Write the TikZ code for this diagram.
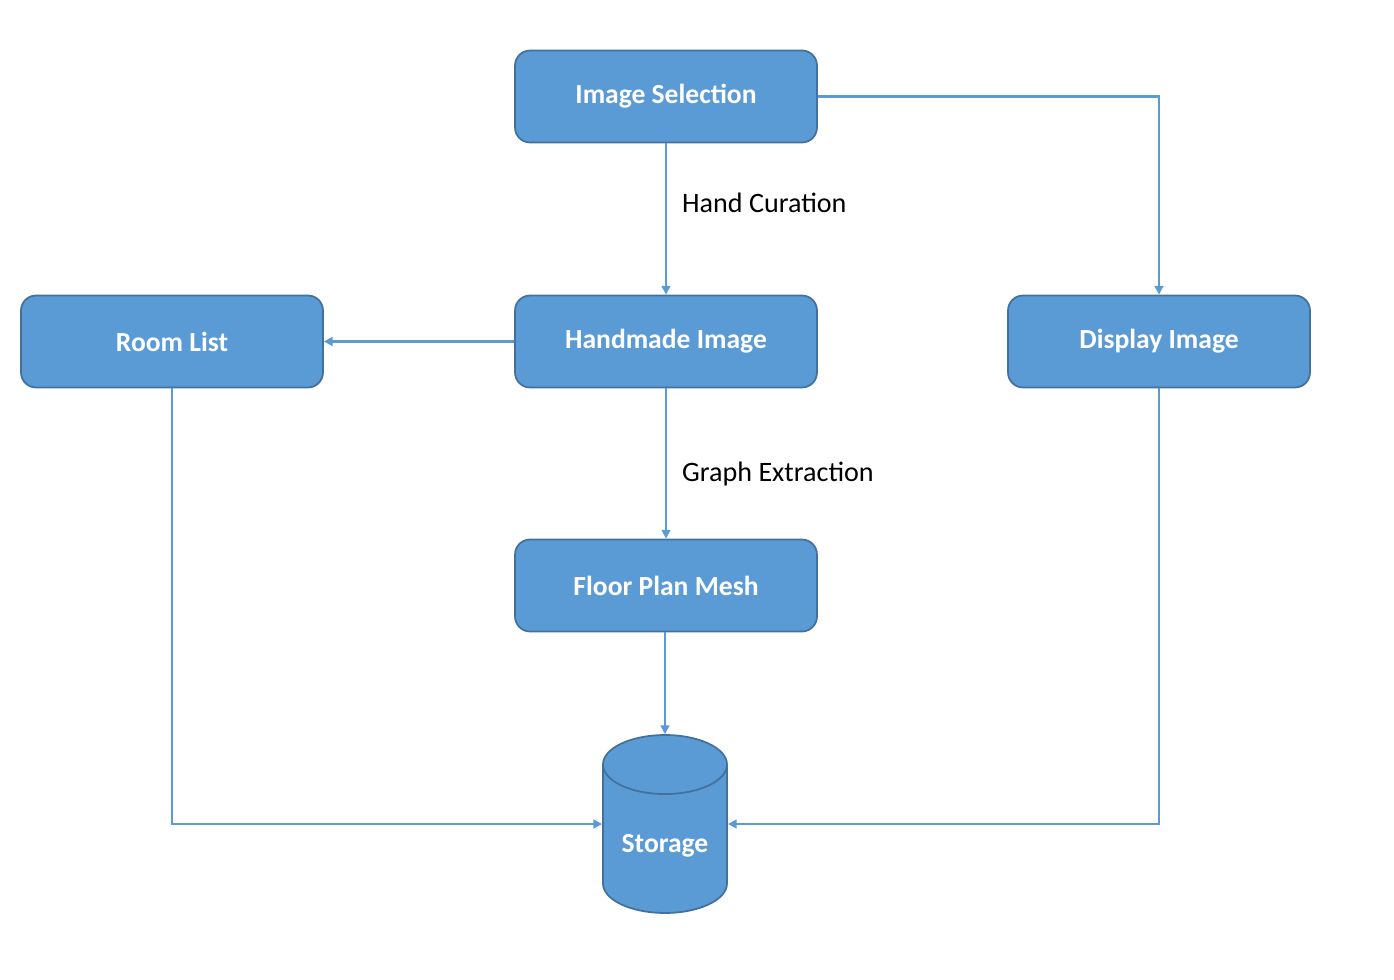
\documentclass[tikz,border=0pt]{standalone}
\usepackage{fontspec}
\setmainfont{Carlito}
\usetikzlibrary{shapes.geometric,arrows.meta}
\definecolor{boxblue}{HTML}{5B9BD5}
\definecolor{boxedge}{HTML}{41719C}

\begin{document}
\begin{tikzpicture}[x=0.02cm, y=-0.02cm,
  box/.style={rectangle, rounded corners=0.3cm, draw=boxedge, line width=1pt, fill=boxblue, text=white, minimum width=6.04cm, minimum height=1.84cm, font=\fontsize{15.7}{18}\selectfont\bfseries},
  link/.style={draw=boxblue, line width=1.3pt, -{Triangle[length=5pt,width=5pt]}},
  lbl/.style={anchor=west, font=\fontsize{16}{19}\selectfont}]
  \useasboundingbox (0,0) rectangle (1394,980);

  \node[box] (sel) at (666, 96.5) {Image Selection};
  \node[box] (hand) at (666, 341.5) {Handmade Image};
  \node[box] (room) at (172, 341.5) {Room List};
  \node[box] (disp) at (1159, 341.5) {Display Image};
  \node[box] (mesh) at (666, 585.5) {Floor Plan Mesh};
  \node[cylinder, shape border rotate=90, aspect=0.6, draw=boxedge, line width=1pt, fill=boxblue, text=white, minimum width=2.48cm, minimum height=3.56cm, anchor=shape center, font=\fontsize{15.7}{18}\selectfont\bfseries] (store) at (665, 824) {Storage};
  \coordinate (storeL) at (store.shape center -| store.west);
  \coordinate (storeR) at (store.shape center -| store.east);

  \draw[link] (sel) -- (hand);
  \draw[link] (sel.east) -| (disp.north);
  \draw[link] (hand) -- (room);
  \draw[link] (hand) -- (mesh);
  \draw[link] (mesh.south -| store.north) -- (store.north);
  \draw[link] (room.south) |- (storeL);
  \draw[link] (disp.south) |- (storeR);

  % edge labels
  \node[lbl] (hcur) at (676, 203) {Hand Curation};
  \node[lbl] (gext) at (676, 474) {Graph Extraction};
\end{tikzpicture}
\end{document}
